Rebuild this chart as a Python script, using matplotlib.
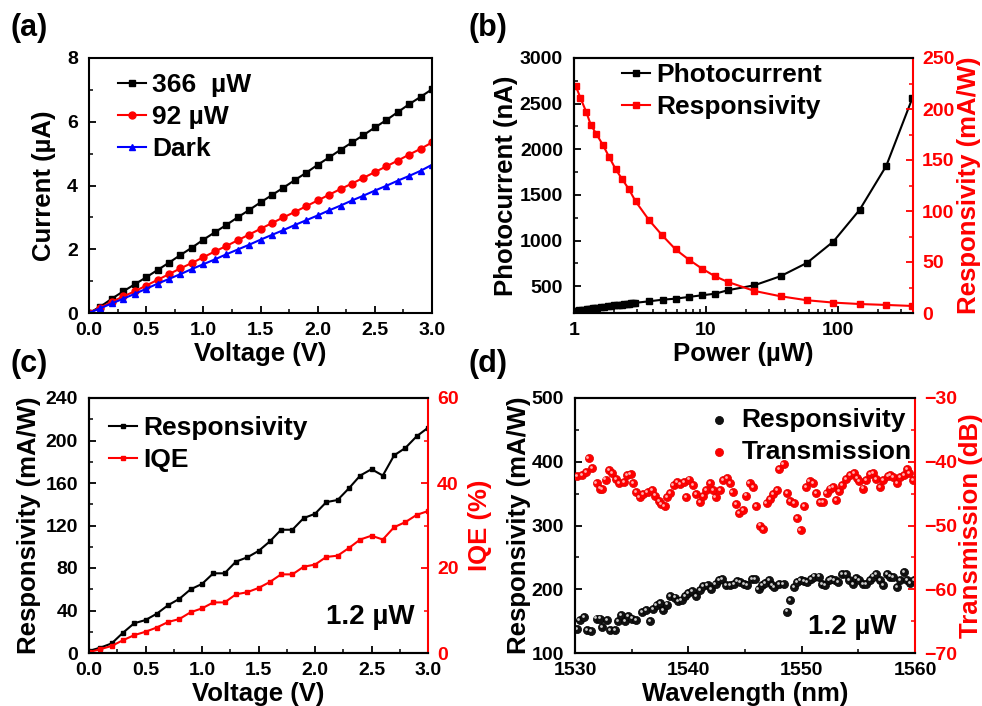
import matplotlib
matplotlib.use("Agg")
import matplotlib.pyplot as plt
import matplotlib.transforms as mtransforms
from matplotlib.ticker import MultipleLocator, FixedLocator, NullFormatter, LogLocator, FixedFormatter

plt.rcParams['font.family'] = ['Liberation Sans', 'DejaVu Sans']
plt.rcParams['font.weight'] = 'bold'
plt.rcParams['axes.labelweight'] = 'bold'
plt.rcParams['axes.linewidth'] = 1.5
plt.rcParams['xtick.direction'] = 'in'
plt.rcParams['ytick.direction'] = 'in'
plt.rcParams['xtick.major.width'] = 1.3
plt.rcParams['ytick.major.width'] = 1.3
plt.rcParams['xtick.minor.width'] = 1.1
plt.rcParams['ytick.minor.width'] = 1.1
plt.rcParams['xtick.major.size'] = 5
plt.rcParams['ytick.major.size'] = 5
plt.rcParams['xtick.minor.size'] = 3
plt.rcParams['ytick.minor.size'] = 3
plt.rcParams['mathtext.default'] = 'regular'

# ---------------- data (a) ----------------
voltage_a = [0.0, 0.1, 0.2, 0.3, 0.4, 0.5, 0.6, 0.7, 0.8, 0.9, 1.0, 1.1, 1.2, 1.3, 1.4, 1.5,
             1.6, 1.7, 1.8, 1.9, 2.0, 2.1, 2.2, 2.3, 2.4, 2.5, 2.6, 2.7, 2.8, 2.9, 3.0]
current_366 = [0.0, 0.2, 0.45, 0.68, 0.9, 1.12, 1.35, 1.58, 1.82, 2.05, 2.3, 2.53, 2.76, 3.0, 3.23, 3.47,
               3.7, 3.93, 4.17, 4.4, 4.65, 4.88, 5.12, 5.35, 5.58, 5.82, 6.05, 6.3, 6.55, 6.78, 7.02]
current_92 = [0.0, 0.17, 0.35, 0.52, 0.68, 0.86, 1.04, 1.22, 1.4, 1.57, 1.75, 1.93, 2.1, 2.28, 2.46, 2.64,
              2.82, 3.0, 3.17, 3.35, 3.53, 3.71, 3.89, 4.06, 4.24, 4.42, 4.6, 4.78, 4.97, 5.15, 5.35]
current_dark = [0.0, 0.15, 0.3, 0.45, 0.6, 0.76, 0.92, 1.07, 1.22, 1.38, 1.53, 1.68, 1.84, 1.99, 2.14, 2.3,
                2.45, 2.6, 2.76, 2.91, 3.06, 3.22, 3.37, 3.53, 3.68, 3.84, 3.99, 4.15, 4.3, 4.46, 4.65]
legend_a = ["366  \u00b5W", "92 \u00b5W", "Dark"]

# ---------------- data (b) ----------------
power_pc = [1.0, 1.05, 1.1, 1.15, 1.2, 1.25, 1.3, 1.35, 1.4, 1.45, 1.5, 1.6, 1.7, 1.8, 1.9, 2.0, 2.1, 2.2,
            2.3, 2.4, 2.5, 2.6, 2.7, 2.8, 2.9, 3.7, 4.7, 5.9, 7.4, 9.3, 11.8, 14.6, 23.3, 36.7, 58.2,
            92.3, 146, 232, 366]
photocurrent = [229, 232, 236, 240, 244, 248, 251, 254, 258, 261, 264, 270, 276, 281, 286, 290, 294, 297,
                300, 303, 306, 309, 312, 315, 318, 335, 353, 364, 383, 401, 419, 456, 511, 610, 756,
                990, 1338, 1818, 2561]
power_r = [1.03, 1.12, 1.24, 1.34, 1.48, 1.66, 1.84, 2.07, 2.32, 2.61, 2.93, 3.7, 4.67, 5.89, 7.4, 9.3,
           11.7, 14.6, 23.3, 36.7, 58.2, 92.3, 146, 232, 366]
responsivity_b = [222.8, 210.7, 196.9, 184.5, 175.3, 164.5, 153.3, 140.9, 131.1, 121.2, 109.4, 91.1, 76.0,
                  62.3, 52.4, 43.6, 36.0, 30.5, 21.6, 16.4, 12.5, 10.2, 8.8, 7.9, 6.9]

# ---------------- data (c) ----------------
voltage_c = [0.0, 0.1, 0.2, 0.3, 0.4, 0.5, 0.6, 0.7, 0.8, 0.9, 1.0, 1.1, 1.2, 1.3, 1.4, 1.5,
             1.6, 1.7, 1.8, 1.9, 2.0, 2.1, 2.2, 2.3, 2.4, 2.5, 2.6, 2.7, 2.8, 2.9, 3.0]
responsivity_c = [2, 5, 9, 19, 28, 31, 37, 45, 51, 60, 65, 75, 75, 86, 90, 96,
                  105, 116, 116, 127, 131, 142, 144, 155, 167, 173, 167, 186, 193, 204, 212]
iqe_c = [0.2, 0.9, 1.65, 3.0, 4.2, 5.0, 6.0, 7.3, 8.0, 9.6, 10.5, 11.9, 11.9, 13.8, 14.3, 15.3,
         16.7, 18.5, 18.5, 20.3, 20.8, 22.6, 22.9, 24.7, 26.7, 27.6, 26.7, 29.6, 30.8, 32.5, 33.4]

# ---------------- data (d) ----------------
wl_resp = [1530.2, 1530.4, 1530.8, 1531.1, 1531.4, 1531.9, 1532.2, 1532.4, 1532.8, 1533.1, 1533.5, 1533.8,
           1534.1, 1534.4, 1534.7, 1535.0, 1535.4, 1535.9, 1536.3, 1536.6, 1536.9, 1537.2, 1537.5, 1537.8,
           1538.1, 1538.4, 1538.8, 1539.1, 1539.4, 1539.7, 1540.0, 1540.3, 1540.7, 1541.0, 1541.3, 1541.7,
           1542.0, 1542.4, 1542.7, 1543.0, 1543.3, 1543.7, 1544.0, 1544.3, 1544.6, 1544.9, 1545.2, 1545.6,
           1545.9, 1546.2, 1546.5, 1546.8, 1547.1, 1547.4, 1547.6, 1548.0, 1548.4, 1548.7, 1549.0, 1549.3,
           1549.6, 1549.9, 1550.2, 1550.5, 1550.8, 1551.1, 1551.5, 1551.8, 1552.1, 1552.4, 1552.6, 1552.9,
           1553.2, 1553.6, 1553.9, 1554.2, 1554.5, 1554.8, 1555.1, 1555.4, 1555.7, 1556.0, 1556.3, 1556.6,
           1556.9, 1557.2, 1557.5, 1557.8, 1558.1, 1558.4, 1558.7, 1559.0, 1559.3, 1559.6, 1559.9]
resp_d = [138, 151, 156, 135.5, 134.5, 154, 154, 141, 151, 136.6, 136.6, 150,
          159, 150, 157.5, 154, 152, 164, 168, 150, 169.5, 175, 178, 168,
          176, 189, 187, 181.6, 182.6, 190, 194, 197, 190, 199, 204.6, 206,
          201, 208.8, 214, 216.6, 206, 206, 208.8, 213, 211, 207.7, 206, 216.6,
          216.6, 201, 206, 210, 215, 206, 203.5, 208.8, 208.8, 165, 183.7, 203.5,
          211, 215, 213, 211, 216.6, 220, 220, 207.7, 206, 214, 216.6, 214,
          211, 224.4, 223.4, 214, 207.7, 218, 215, 208.8, 208.8, 214, 220, 223.4,
          215, 206, 224.4, 220, 219, 203.5, 214, 227, 214, 210, 214]
wl_trans = [1530.2, 1530.6, 1531.0, 1531.2, 1531.5, 1531.9, 1532.2, 1532.4, 1532.7, 1533.0, 1533.3, 1533.6,
            1533.9, 1534.3, 1534.6, 1534.9, 1535.1, 1535.4, 1535.7, 1536.0, 1536.4, 1536.8, 1537.1, 1537.4,
            1537.6, 1537.9, 1538.1, 1538.4, 1538.7, 1539.0, 1539.3, 1539.6, 1539.8, 1540.1, 1540.4, 1540.7,
            1541.0, 1541.3, 1541.6, 1541.9, 1542.2, 1542.4, 1542.8, 1543.1, 1543.4, 1543.7, 1543.9, 1544.2,
            1544.5, 1544.8, 1545.1, 1545.4, 1545.7, 1546.0, 1546.3, 1546.6, 1546.9, 1547.2, 1547.5, 1547.8,
            1548.0, 1548.4, 1548.7, 1549.0, 1549.3, 1549.6, 1549.9, 1550.2, 1550.4, 1550.7, 1551.0, 1551.3,
            1551.6, 1551.9, 1552.2, 1552.5, 1552.8, 1553.0, 1553.3, 1553.6, 1553.9, 1554.3, 1554.6, 1554.9,
            1555.1, 1555.4, 1555.7, 1556.0, 1556.3, 1556.6, 1556.9, 1557.2, 1557.6, 1557.8, 1558.1, 1558.4,
            1558.7, 1559.0, 1559.3, 1559.5, 1559.8]
trans_d = [-42.3, -42.1, -41.6, -39.4, -41.0, -43.3, -44.2, -44.3, -42.8, -41.3, -41.8, -42.7,
           -43.4, -43.2, -42.1, -42.0, -43.3, -44.7, -45.5, -45.1, -44.7, -44.5, -45.3, -46.1,
           -46.7, -47.0, -45.5, -44.9, -43.7, -43.2, -43.5, -43.2, -45.5, -42.8, -43.7, -45.0,
           -46.3, -45.4, -44.4, -43.3, -44.5, -45.5, -44.5, -42.9, -42.6, -43.4, -44.7, -46.7,
           -48.1, -47.6, -45.3, -43.4, -43.9, -47.0, -50.0, -50.5, -46.5, -45.8, -45.1, -44.4,
           -41.1, -40.4, -44.9, -46.2, -46.5, -48.8, -50.7, -47.0, -44.0, -43.0, -43.4, -44.9,
           -46.3, -46.3, -44.9, -44.2, -43.9, -46.0, -44.6, -43.7, -42.7, -42.1, -41.8, -42.5,
           -43.0, -44.2, -42.9, -41.9, -41.8, -42.7, -44.0, -42.9, -42.3, -42.1, -42.4, -43.4,
           -42.4, -42.1, -41.1, -41.8, -42.9]

RED = '#ff0000'
W, H = 982, 706
fig = plt.figure(figsize=(W / 100, H / 100), dpi=100)


def box(l, t, r, b):
    return [l / W, 1 - b / H, (r - l) / W, (b - t) / H]


LAB = 18.5
TICK = 14
LEG = 19
LEGKW = dict(frameon=False, fontsize=LEG, handlelength=1.05, handletextpad=0.25, labelspacing=0.3,
             borderpad=0, borderaxespad=0)

# ---------------- panel (a) ----------------
ax_a = fig.add_axes(box(89, 58, 432, 313))
ax_a.plot(voltage_a, current_366, '-s', color='black', ms=5, lw=1.5, label=legend_a[0])
ax_a.plot(voltage_a, current_92, '-o', color=RED, ms=5, lw=1.5, label=legend_a[1])
ax_a.plot(voltage_a, current_dark, '-^', color='#0000ff', ms=5, lw=1.5, label=legend_a[2])
ax_a.set_xlim(0, 3.0)
ax_a.set_ylim(0, 8)
ax_a.xaxis.set_major_locator(MultipleLocator(0.5))
ax_a.xaxis.set_minor_locator(MultipleLocator(0.25))
ax_a.yaxis.set_major_locator(MultipleLocator(2))
ax_a.yaxis.set_minor_locator(MultipleLocator(1))
ax_a.set_xlabel('Voltage (V)', fontsize=LAB, labelpad=2)
ax_a.set_ylabel('Current (\u00b5A)', fontsize=LAB, labelpad=8)
ax_a.legend(loc='upper left', bbox_to_anchor=(0.085, 0.94), **LEGKW)

# ---------------- panel (b) ----------------
ax_b = fig.add_axes(box(574, 58, 913, 313))
l1, = ax_b.plot(power_pc, photocurrent, '-s', color='black', ms=5, lw=1.5, label='Photocurrent')
ax_b.set_xscale('log')
ax_b.set_xlim(1, 370)
ax_b.set_ylim(207, 3000)
ax_b.xaxis.set_major_locator(FixedLocator([1, 10, 100]))
ax_b.xaxis.set_major_formatter(FixedFormatter(['1', '10', '100']))
ax_b.xaxis.set_minor_locator(LogLocator(base=10, subs=(2, 3, 4, 5, 6, 7, 8, 9)))
ax_b.xaxis.set_minor_formatter(NullFormatter())
ax_b.yaxis.set_major_locator(FixedLocator([500, 1000, 1500, 2000, 2500, 3000]))
ax_b.yaxis.set_minor_locator(FixedLocator([250, 750, 1250, 1750, 2250, 2750]))
ax_b.set_xlabel('Power (\u00b5W)', fontsize=LAB, labelpad=2)
ax_b.set_ylabel('Photocurrent (nA)', fontsize=LAB, labelpad=1.5)
ax_b2 = ax_b.twinx()
l2, = ax_b2.plot(power_r, responsivity_b, '-s', color=RED, ms=5, lw=1.5, label='Responsivity')
ax_b2.set_ylim(0, 250)
ax_b2.yaxis.set_major_locator(MultipleLocator(50))
ax_b2.yaxis.set_minor_locator(MultipleLocator(25))
ax_b2.set_ylabel('Responsivity (mA/W)', fontsize=LAB, color=RED, labelpad=2)
ax_b2.tick_params(axis='y', which='both', colors=RED)
ax_b2.spines['right'].set_color(RED)
ax_b.legend([l1, l2], ['Photocurrent', 'Responsivity'], loc='upper left', bbox_to_anchor=(0.142, 0.98),
            **LEGKW)

# ---------------- panel (c) ----------------
ax_c = fig.add_axes(box(89, 398, 428, 653))
l3, = ax_c.plot(voltage_c, responsivity_c, '-s', color='black', ms=3, lw=1.5, label='Responsivity')
ax_c.set_xlim(0, 3.0)
ax_c.set_ylim(0, 240)
ax_c.xaxis.set_major_locator(MultipleLocator(0.5))
ax_c.xaxis.set_minor_locator(MultipleLocator(0.25))
ax_c.yaxis.set_major_locator(MultipleLocator(40))
ax_c.yaxis.set_minor_locator(MultipleLocator(20))
ax_c.set_xlabel('Voltage (V)', fontsize=LAB, labelpad=2)
ax_c.set_ylabel('Responsivity (mA/W)', fontsize=LAB, labelpad=3)
ax_c2 = ax_c.twinx()
l4, = ax_c2.plot(voltage_c, iqe_c, '-s', color=RED, ms=3, lw=1.5, label='IQE')
ax_c2.set_ylim(0, 60)
ax_c2.yaxis.set_major_locator(MultipleLocator(20))
ax_c2.yaxis.set_minor_locator(MultipleLocator(10))
ax_c2.set_ylabel('IQE (%)', fontsize=LAB, color=RED, labelpad=6.5)
ax_c2.tick_params(axis='y', which='both', colors=RED)
ax_c2.spines['right'].set_color(RED)
ax_c.legend([l3, l4], ['Responsivity', 'IQE'], loc='upper left', bbox_to_anchor=(0.06, 0.93), **LEGKW)
ax_c.text(0.83, 0.14, '1.2 \u00b5W', transform=ax_c.transAxes, fontsize=20, fontweight='bold',
          ha='center', va='center')

# ---------------- panel (d) ----------------
ax_d = fig.add_axes(box(575, 398, 915, 653))
ax_d2 = ax_d.twinx()
hl_d = mtransforms.offset_copy(ax_d.transData, fig=fig, x=-0.8, y=0.8, units='points')
hl_d2 = mtransforms.offset_copy(ax_d2.transData, fig=fig, x=-0.8, y=0.8, units='points')
s1 = ax_d.scatter(wl_resp, resp_d, s=34, color='#111111', edgecolors='#000000', linewidths=0.5,
                  zorder=3, label='Responsivity')
ax_d.scatter(wl_resp, resp_d, s=4, color='#cfcfcf', linewidths=0, transform=hl_d, zorder=4)
s2 = ax_d2.scatter(wl_trans, trans_d, s=34, color=RED, edgecolors='#e00000', linewidths=0.5,
                   zorder=3, label='Transmission')
ax_d2.scatter(wl_trans, trans_d, s=4, color='#ffb0b0', linewidths=0, transform=hl_d2, zorder=4)
ax_d.set_xlim(1530, 1560)
ax_d.set_ylim(100, 500)
ax_d.xaxis.set_major_locator(MultipleLocator(10))
ax_d.xaxis.set_minor_locator(MultipleLocator(5))
ax_d.yaxis.set_major_locator(MultipleLocator(100))
ax_d.yaxis.set_minor_locator(MultipleLocator(50))
ax_d.set_xlabel('Wavelength (nm)', fontsize=LAB, labelpad=2)
ax_d.set_ylabel('Responsivity (mA/W)', fontsize=LAB, labelpad=0.5)
ax_d2.set_ylim(-70, -30)
ax_d2.yaxis.set_major_locator(MultipleLocator(10))
ax_d2.yaxis.set_minor_locator(MultipleLocator(5))
ax_d2.set_ylabel('Transmission (dB)', fontsize=LAB, color=RED, labelpad=1.5)
ax_d2.tick_params(axis='y', which='both', colors=RED)
ax_d2.spines['right'].set_color(RED)
ax_d2.legend([s1, s2], ['Responsivity', 'Transmission'], loc='upper right', bbox_to_anchor=(0.99, 0.96),
             frameon=False, fontsize=LEG, handlelength=0.6, handletextpad=0.55, labelspacing=0.3,
             borderpad=0, borderaxespad=0, scatterpoints=1)
ax_d.text(0.815, 0.10, '1.2 \u00b5W', transform=ax_d.transAxes, fontsize=20, fontweight='bold',
          ha='center', va='center')

for ax in (ax_a, ax_b, ax_b2, ax_c, ax_c2, ax_d, ax_d2):
    ax.tick_params(axis='both', which='both', labelsize=TICK)
    ax.tick_params(axis='x', which='both', pad=6.5)
    for lab in ax.get_xticklabels() + ax.get_yticklabels():
        lab.set_fontweight('bold')
for ax in (ax_a, ax_b, ax_c, ax_d):
    ax.tick_params(axis='y', which='both', right=False, pad=8)
    ax.tick_params(axis='x', which='both', top=False)
for ax in (ax_b2, ax_c2, ax_d2):
    ax.tick_params(axis='y', which='both', pad=6.5)
for ax in (ax_b, ax_c, ax_d):
    ax.spines['right'].set_visible(False)

# panel labels
for lbl, x, y in (('(a)', 10, 28), ('(b)', 468, 28), ('(c)', 10, 364), ('(d)', 468, 364)):
    fig.text(x / W, 1 - y / H, lbl, fontsize=22, fontweight='bold', ha='left', va='center')

fig.savefig('out.png', dpi=100)
